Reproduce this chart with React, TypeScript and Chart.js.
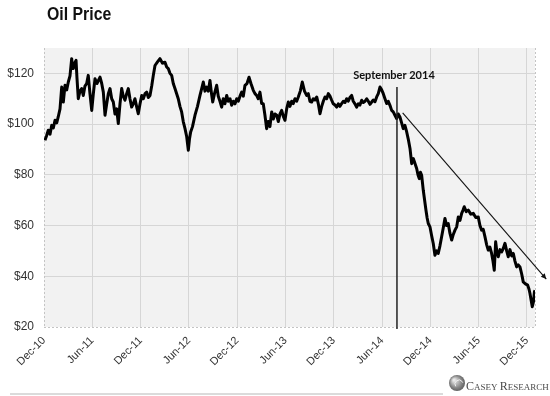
import React, { useEffect, useRef } from "react";
import { Chart, registerables } from "chart.js";

Chart.register(...registerables);

// [months since Dec-2010, Brent price USD]
const OIL_PRICE_POINTS: [number, number][] = [
  [0.12, 93.6], [0.33, 95.5], [0.53, 97.6], [0.75, 96], [0.96, 99.5], [1.16, 98.5], [1.37, 101.5],
  [1.58, 100.5], [1.78, 103], [1.99, 106], [2.2, 114.6], [2.3, 112], [2.4, 108.7], [2.61, 115.3],
  [2.82, 113.5], [3.02, 116.6], [3.23, 119], [3.44, 125.8], [3.54, 122], [3.64, 121.9], [3.79, 124],
  [3.98, 125.1], [4.1, 118], [4.26, 110], [4.47, 113], [4.68, 114], [4.88, 111.3], [5.09, 115],
  [5.3, 116], [5.5, 119.2], [5.71, 112], [5.93, 105.4], [6.13, 112], [6.34, 117.9], [6.58, 116],
  [6.96, 118.5], [7.17, 116], [7.37, 112.6], [7.58, 103.5], [7.79, 108], [7.99, 112], [8.2, 114],
  [8.41, 110], [8.61, 108.7], [8.82, 104], [9.03, 106], [9.23, 100.2], [9.44, 108], [9.65, 114],
  [9.85, 111], [10.06, 109.4], [10.27, 112], [10.47, 114], [10.68, 110], [10.89, 106.7], [11.09, 108],
  [11.3, 110], [11.5, 107], [11.71, 104.1], [11.93, 108], [12.14, 111.3], [12.34, 110], [12.55, 112],
  [12.76, 112.6], [12.96, 110.5], [13.17, 111.3], [13.38, 115], [13.58, 119.2],
  [13.79, 123.1], [14.1, 124.5], [14.41, 125.8], [14.72, 124], [15.03, 124.4], [15.24, 122.5],
  [15.44, 121.9], [15.65, 120], [15.86, 119.2], [16.06, 116], [16.27, 114], [16.48, 112], [16.68, 110],
  [16.89, 107], [17.1, 104.8], [17.3, 101], [17.52, 98.2], [17.73, 95], [17.93, 89.7], [18.07, 94],
  [18.22, 96.9], [18.45, 99], [18.76, 103.5], [19.07, 107], [19.38, 111.3], [19.59, 114], [19.79, 116.6],
  [20.0, 113], [20.21, 114.6], [20.41, 113], [20.62, 117.2], [20.81, 112], [20.96, 108.7], [21.18, 112],
  [21.45, 115.3], [21.65, 111], [21.86, 109], [22.07, 106.7], [22.27, 110], [22.48, 108], [22.7, 111.3],
  [22.89, 109], [23.11, 110], [23.32, 107.4], [23.52, 109], [23.73, 108], [23.94, 110], [24.14, 109],
  [24.35, 111], [24.56, 112.6], [24.76, 111], [24.97, 115.3], [25.22, 116], [25.47, 118.5], [25.71, 116],
  [26.0, 113.3], [26.21, 112], [26.42, 111.3], [26.62, 110], [26.83, 112.6], [27.04, 108.1], [27.24, 108],
  [27.45, 103.5], [27.66, 98.2], [27.86, 101], [28.07, 99], [28.29, 104.8], [28.49, 102], [28.7, 104],
  [28.91, 103.5], [29.11, 101], [29.32, 104], [29.53, 105.4], [29.73, 103], [29.94, 101.5], [30.15, 106],
  [30.35, 108.7], [30.56, 107], [30.77, 109], [30.97, 108.1], [31.18, 110], [31.39, 109], [31.59, 110.7],
  [31.84, 113], [32.09, 116.6], [32.36, 113], [32.63, 111.3], [32.83, 112], [33.04, 109], [33.25, 108.7],
  [33.45, 110], [33.66, 109.5], [33.88, 110.7], [34.08, 108], [34.29, 104.1], [34.5, 107], [34.7, 109],
  [34.91, 110.7], [35.12, 110], [35.32, 112], [35.53, 111], [35.74, 109.4], [35.94, 108], [36.15, 107.5],
  [36.36, 106.7], [36.56, 108], [36.77, 107], [36.98, 108.1], [37.18, 109], [37.39, 108.5], [37.6, 110],
  [37.8, 109], [38.01, 110.5], [38.22, 111.3], [38.42, 109], [38.63, 108], [38.84, 106.7], [39.04, 108],
  [39.25, 107.5], [39.47, 109.4], [39.67, 108.5], [39.88, 109], [40.09, 110], [40.29, 109], [40.5, 107.8],
  [40.71, 108.7], [40.91, 109.5], [41.12, 108.8], [41.33, 110.7], [41.53, 112], [41.74, 114.6],
  [41.95, 113.5], [42.15, 112], [42.36, 110], [42.57, 108.1], [42.77, 109], [42.98, 107.4], [43.19, 105.4],
  [43.39, 104.8], [43.6, 103.5], [43.81, 102.2], [44.01, 104], [44.22, 102.8], [44.43, 100.5],
  [44.63, 98.2], [44.84, 99.5], [45.06, 96.9], [45.26, 94], [45.47, 90.4], [45.68, 84.4], [45.88, 86.4],
  [46.09, 84.5], [46.3, 82.5], [46.46, 80], [46.62, 78.5], [46.77, 81], [46.92, 79.8], [47.12, 73.9],
  [47.45, 66.1], [47.6, 63], [47.74, 60.8], [47.95, 59.5], [48.16, 56], [48.36, 52.9], [48.57, 48.3],
  [48.78, 50], [48.98, 49], [49.19, 52], [49.4, 55.6], [49.6, 59], [49.81, 62.8], [50.02, 60],
  [50.22, 60.8], [50.43, 57], [50.65, 54.3], [50.85, 56.5], [51.06, 58.2], [51.27, 59.5], [51.47, 63.4],
  [51.68, 62], [51.89, 64.8], [52.05, 66], [52.21, 67.4], [52.46, 65.5], [52.71, 66.1], [53.02, 64.5],
  [53.33, 64.8], [53.64, 63.2], [53.95, 63.4], [54.16, 60], [54.37, 58.2], [54.57, 58.5], [54.78, 55.6],
  [54.99, 52.5], [55.19, 50.3], [55.4, 51.5], [55.61, 49], [55.78, 46], [55.94, 42.4], [56.11, 53.6],
  [56.27, 49.5], [56.44, 47.7], [56.65, 50.5], [56.86, 49.6], [57.06, 51], [57.27, 53], [57.48, 50],
  [57.68, 47.7], [57.89, 50.5], [58.1, 48], [58.3, 49], [58.51, 46], [58.72, 43.7], [58.92, 44.5],
  [59.13, 43.7], [59.34, 41], [59.54, 37.8], [59.81, 37], [60.09, 36.5], [60.25, 35], [60.37, 33.3],
  [60.52, 30.5], [60.66, 28], [60.81, 30], [60.93, 33.9], [61.0, 34.5],
];
const X_TICK_LABELS = [
  "Dec-10", "Jun-11", "Dec-11", "Jun-12", "Dec-12", "Jun-13",
  "Dec-13", "Jun-14", "Dec-14", "Jun-15", "Dec-15",
];
const X_MIN = 0;
const X_MAX = 61;
const Y_MIN = 20;
const Y_MAX = 130;
const Y_STEP = 20;
const MARKER_MONTH = 43.85;
const MARKER_LABEL = "September 2014";
const ARROW_FROM = [44.56, 104.4];
const ARROW_TO = [62.4, 38.9];
const TITLE = "Oil Price";
const LOGO_PARTS: [string, number][] = [
  ["C", 12], ["ASEY ", 9], ["R", 12], ["ESEARCH", 9],
];

const overlay = {
  id: "overlay",
  beforeDraw(chart: any) {
    const { ctx, chartArea: a } = chart;
    ctx.save();
    ctx.fillStyle = "#ffffff";
    ctx.fillRect(0, 0, chart.width, chart.height);
    ctx.fillStyle = "#f2f2f2";
    ctx.fillRect(a.left, a.top, a.right - a.left, a.bottom - a.top);
    ctx.restore();
  },
  beforeDatasetsDraw(chart: any) {
    const { ctx, chartArea: a } = chart;
    ctx.save();
    ctx.strokeStyle = "#c4c4c4";
    ctx.lineWidth = 1;
    ctx.setLineDash([2, 2]);
    ctx.beginPath();
    ctx.moveTo(a.left + 0.5, a.top);
    ctx.lineTo(a.left + 0.5, a.bottom);
    ctx.moveTo(a.left, a.bottom + 0.5);
    ctx.lineTo(a.right, a.bottom + 0.5);
    ctx.moveTo(a.right + 0.5, a.top);
    ctx.lineTo(a.right + 0.5, a.bottom);
    ctx.stroke();
    ctx.restore();
  },
  afterDraw(chart: any) {
    const { ctx, chartArea: a } = chart;
    const xs = chart.scales.x;
    const ys = chart.scales.y;
    ctx.save();

    // vertical marker
    const mx = xs.getPixelForValue(MARKER_MONTH);
    ctx.strokeStyle = "#222";
    ctx.lineWidth = 1.5;
    ctx.beginPath();
    ctx.moveTo(mx, 87);
    ctx.lineTo(mx, a.bottom + 2);
    ctx.stroke();
    ctx.fillStyle = "#111";
    ctx.font = "bold 11px Lato, 'Open Sans', sans-serif";
    ctx.textAlign = "center";
    ctx.textBaseline = "middle";
    ctx.fillText(MARKER_LABEL, mx - 3, 75);

    // arrow
    const x1 = xs.getPixelForValue(ARROW_FROM[0]);
    const y1 = ys.getPixelForValue(ARROW_FROM[1]);
    const x2 = xs.getPixelForValue(ARROW_TO[0]);
    const y2 = ys.getPixelForValue(ARROW_TO[1]);
    ctx.strokeStyle = "#111";
    ctx.lineWidth = 1.1;
    ctx.beginPath();
    ctx.moveTo(x1, y1);
    ctx.lineTo(x2, y2);
    ctx.stroke();
    const ang = Math.atan2(y2 - y1, x2 - x1);
    const hl = 6;
    ctx.fillStyle = "#111";
    ctx.beginPath();
    ctx.moveTo(x2, y2);
    ctx.lineTo(x2 - hl * Math.cos(ang - 0.45), y2 - hl * Math.sin(ang - 0.45));
    ctx.lineTo(x2 - hl * Math.cos(ang + 0.45), y2 - hl * Math.sin(ang + 0.45));
    ctx.closePath();
    ctx.fill();

    // title
    ctx.save();
    ctx.translate(47, 20);
    ctx.scale(0.88, 1);
    ctx.fillStyle = "#111";
    ctx.font = "bold 18px 'Liberation Sans', Arial, sans-serif";
    ctx.textAlign = "left";
    ctx.textBaseline = "alphabetic";
    ctx.fillText(TITLE, 0, 0);
    ctx.restore();

    // bottom rule
    ctx.strokeStyle = "#cfcfcf";
    ctx.lineWidth = 1.5;
    ctx.beginPath();
    ctx.moveTo(10, 394);
    ctx.lineTo(443, 394);
    ctx.stroke();

    // logo
    const cx = 457, cy = 383;
    const g = ctx.createRadialGradient(cx - 3, cy - 3, 1, cx, cy, 9);
    g.addColorStop(0, "#e8e8e8");
    g.addColorStop(0.6, "#8a8a8a");
    g.addColorStop(1, "#555");
    ctx.fillStyle = g;
    ctx.beginPath();
    ctx.arc(cx, cy, 8, 0, Math.PI * 2);
    ctx.fill();
    ctx.strokeStyle = "#eee";
    ctx.lineWidth = 1;
    ctx.beginPath();
    ctx.arc(cx + 2, cy + 1, 4, Math.PI * 0.8, Math.PI * 1.9);
    ctx.stroke();
    ctx.fillStyle = "#4a4a4a";
    ctx.textAlign = "left";
    ctx.textBaseline = "alphabetic";
    let tx = 466;
    for (const [s, sz] of LOGO_PARTS) {
      ctx.font = `${sz}px 'Liberation Serif', 'DejaVu Serif', serif`;
      ctx.fillText(s, tx, 390);
      tx += ctx.measureText(s).width;
    }
    ctx.restore();
  },
};

export default function App() {
  const ref = useRef<HTMLCanvasElement | null>(null);
  useEffect(() => {
    document.body.style.margin = "0";
    const canvas = ref.current;
    if (!canvas) return;
    const tickFont = { family: "'Liberation Sans', Arial, sans-serif", size: 12 };
    const chart = new Chart(canvas, {
      type: "line",
      data: {
        datasets: [
          {
            data: OIL_PRICE_POINTS.map(([m, p]) => ({ x: m, y: p })),
            borderColor: "#000",
            borderWidth: 3,
            pointRadius: 0,
            tension: 0,
            borderJoinStyle: "round",
            fill: false,
          },
        ],
      },
      options: {
        animation: false,
        responsive: false,
        maintainAspectRatio: false,
        layout: { padding: { top: 48, left: 0, right: 15, bottom: 0 } },
        plugins: { legend: { display: false }, tooltip: { enabled: false }, title: { display: false } },
        scales: {
          x: {
            type: "linear",
            min: X_MIN,
            max: X_MAX,
            afterBuildTicks: (s: any) => {
              s.ticks = X_TICK_LABELS.map((_, i) => ({ value: i * 6 }));
            },
            ticks: {
              autoSkip: false,
              maxRotation: 45,
              minRotation: 45,
              padding: 7,
              color: "#333",
              font: { ...tickFont, size: 11 },
              callback: (v: any) => X_TICK_LABELS[Math.round(Number(v) / 6)] ?? "",
            },
            grid: {
              drawTicks: false,
              lineWidth: 1,
              color: (c: any) => (c.tick && c.tick.value === 0 ? "rgba(0,0,0,0)" : "#d6d6d6"),
            },
            border: { display: false },
            afterFit: (s: any) => {
              s.height = 396 - 327;
            },
          },
          y: {
            min: Y_MIN,
            max: Y_MAX,
            ticks: {
              stepSize: Y_STEP,
              includeBounds: false,
              padding: 10,
              color: "#333",
              font: tickFont,
              callback: (v: any) => "$" + v,
            },
            grid: {
              drawTicks: false,
              lineWidth: 1,
              color: (c: any) => (c.tick && c.tick.value === Y_MIN ? "rgba(0,0,0,0)" : "#d6d6d6"),
            },
            border: { display: false },
            afterFit: (s: any) => {
              s.width = 44;
            },
          },
        },
      },
      plugins: [overlay],
    } as any);
    return () => chart.destroy();
  }, []);
  return (
    <div style={{ position: "absolute", left: 0, top: 0, width: 550, height: 396 }}>
      <canvas ref={ref} width={550} height={396} style={{ width: 550, height: 396 }} />
    </div>
  );
}
